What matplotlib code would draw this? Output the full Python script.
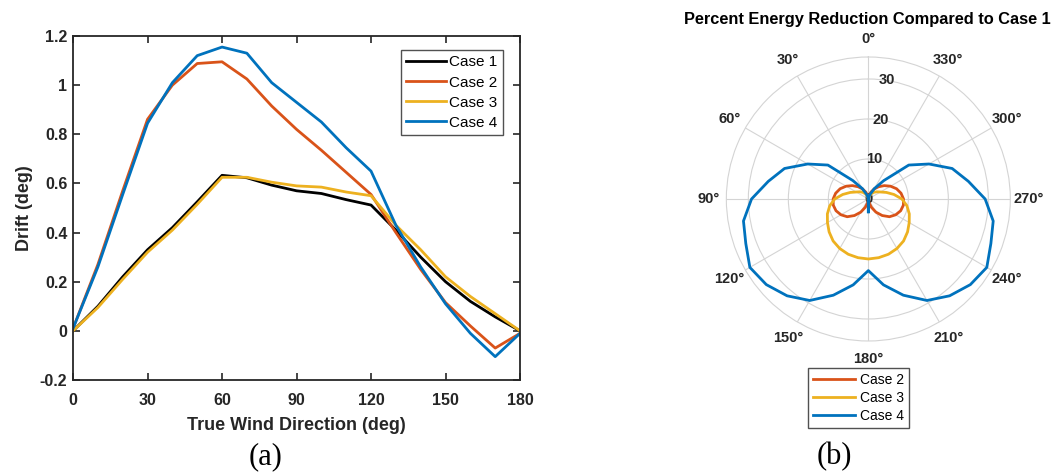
import numpy as np
import matplotlib
matplotlib.use("Agg")
import matplotlib.pyplot as plt
from matplotlib.ticker import FormatStrFormatter

plt.rcParams['font.family'] = ['Liberation Sans', 'DejaVu Sans']

# (a) drift vs true wind direction
wind_dir = np.arange(0, 181, 10)
drift_case1 = [0.00, 0.10, 0.22, 0.33, 0.42, 0.525, 0.633, 0.623, 0.593, 0.570, 0.559,
               0.534, 0.512, 0.41, 0.30, 0.20, 0.12, 0.057, 0.0]
drift_case2 = [0.01, 0.27, 0.57, 0.861, 1.00, 1.088, 1.095, 1.025, 0.915, 0.82, 0.735,
               0.645, 0.555, 0.40, 0.25, 0.115, 0.02, -0.07, -0.01]
drift_case3 = [0.00, 0.095, 0.21, 0.32, 0.41, 0.515, 0.625, 0.625, 0.605, 0.59, 0.585,
               0.565, 0.55, 0.43, 0.33, 0.22, 0.14, 0.07, 0.0]
drift_case4 = [0.01, 0.26, 0.555, 0.845, 1.01, 1.12, 1.155, 1.13, 1.01, 0.93, 0.85,
               0.745, 0.65, 0.43, 0.26, 0.11, -0.01, -0.105, -0.01]

# (b) percent energy reduction, 0..180 deg (mirrored for 190..360)
half_angles = np.arange(0, 181, 10)
red_case2 = [0.0, 0.8, 1.8, 2.9, 4.0, 5.2, 6.4, 7.5, 8.3, 8.8, 8.9,
             8.6, 7.9, 6.9, 5.4, 3.8, 2.2, 0.9, 0.0]
red_case3 = [0.0, 0.3, 0.8, 1.5, 2.2, 2.8, 3.5, 4.8, 6.5, 8.4, 9.8,
             10.9, 11.8, 12.8, 13.7, 14.3, 14.7, 14.9, 15.0]
red_case4 = [-3.2, 0.3, 1.2, 3.0, 6.0, 13.2, 17.5, 22.3, 25.4, 29.2, 31.7,
             32.6, 34.2, 33.3, 31.6, 29.3, 25.6, 21.8, 17.9]

colors = ['black', '#D95319', '#EDB120', '#0072BD']
axcol = '#262626'

fig = plt.figure(figsize=(10.54, 4.73), dpi=100)

# ---- left plot
ax = fig.add_axes([0.0693, 0.1966, 0.4241, 0.7273])
for y, c, lab in zip([drift_case1, drift_case2, drift_case3, drift_case4], colors,
                     ['Case 1', 'Case 2', 'Case 3', 'Case 4']):
    ax.plot(wind_dir, y, color=c, lw=2, label=lab)
ax.set_xlim(0, 180)
ax.set_ylim(-0.2, 1.2)
ax.set_xticks(np.arange(0, 181, 30))
ax.set_yticks(np.arange(-0.2, 1.21, 0.2))
ax.yaxis.set_major_formatter(FormatStrFormatter('%g'))
ax.tick_params(direction='in', top=True, right=True, length=5, width=1.2,
               labelsize=11.5, colors=axcol)
ax.tick_params(axis='x', pad=9)
ax.tick_params(axis='y', pad=4)
for lbl in ax.get_xticklabels() + ax.get_yticklabels():
    lbl.set_fontweight('bold')
for s in ax.spines.values():
    s.set_linewidth(1.3)
    s.set_color(axcol)
ax.set_xlabel('True Wind Direction (deg)', fontsize=13, fontweight='bold', color=axcol, labelpad=7)
ax.set_ylabel('Drift (deg)', fontsize=13, fontweight='bold', color=axcol, labelpad=5)
leg = ax.legend(loc='upper right', fontsize=11, frameon=True, fancybox=False,
                edgecolor=axcol, handlelength=2.6, labelspacing=0.4, borderpad=0.35,
                handletextpad=0.25, borderaxespad=0, bbox_to_anchor=(0.962, 0.959))
leg.get_frame().set_linewidth(1.0)

# ---- polar plot
pax = fig.add_axes([0.6891, 0.2791, 0.2695, 0.6004], projection='polar')
pax.set_theta_zero_location('N')
pax.set_theta_direction(1)
for r, c, lab in zip([red_case2, red_case3, red_case4], colors[1:], ['Case 2', 'Case 3', 'Case 4']):
    r = np.asarray(r, dtype=float)
    full_r = np.concatenate([r, r[-2::-1]])
    full_t = np.concatenate([half_angles, 360 - half_angles[-2::-1]]).astype(float)
    # negative radii are drawn through the origin, as MATLAB does
    t_plot = np.where(full_r < 0, full_t + 180, full_t)
    pax.plot(np.deg2rad(t_plot), np.abs(full_r), color=c, lw=2, label=lab)
pax.set_rlim(0, 35.5)
pax.set_thetagrids(np.arange(0, 360, 30), [f'{a}°' for a in range(0, 360, 30)],
                   fontsize=10.5, fontweight='bold', color=axcol)
pax.set_rgrids([0, 10, 20, 30], ['0', '10', '20', '30'], angle=351,
               fontsize=10.5, fontweight='bold', color=axcol)
pax.tick_params(axis='x', pad=2.5)
pax.grid(color='#d4d4d4', lw=0.8)
pax.spines['polar'].set_color('#d4d4d4')
pax.spines['polar'].set_linewidth(0.8)
for lbl in pax.get_yticklabels():
    lbl.set_horizontalalignment('center')
    lbl.set_verticalalignment('center')
fig.text(0.8225, 0.959, 'Percent Energy Reduction Compared to Case 1', fontsize=11.8,
         fontweight='bold', ha='center', va='center')
pleg = pax.legend(loc='upper center', bbox_to_anchor=(0.4665, -0.095), fontsize=10,
                  frameon=True, fancybox=False, edgecolor=axcol, handlelength=3.0,
                  labelspacing=0.3, borderpad=0.35, handletextpad=0.4, borderaxespad=0)
pleg.get_frame().set_linewidth(1.0)

fig.text(0.2515, 0.034, '(a)', family='Liberation Serif', fontsize=22, ha='center', va='center')
fig.text(0.7913, 0.034, '(b)', family='Liberation Serif', fontsize=22, ha='center', va='center')

fig.savefig('out.png', dpi=100)
